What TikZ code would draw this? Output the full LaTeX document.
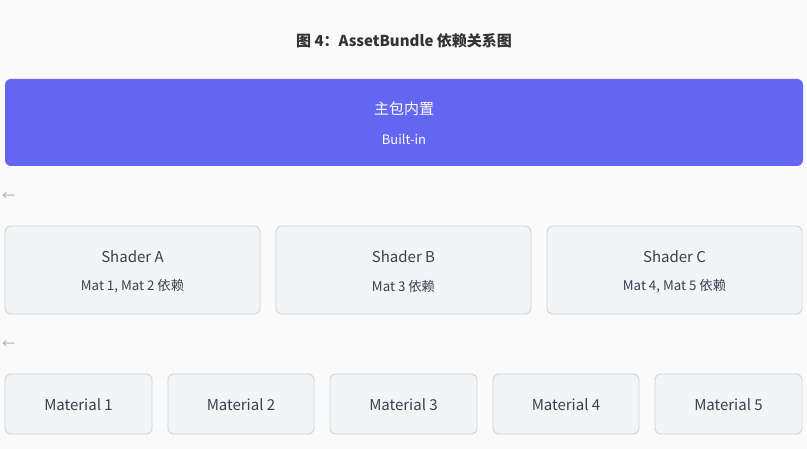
\documentclass[tikz,border=0pt]{standalone}
\usepackage{fontspec}
\setmainfont{Noto Sans CJK SC}
\definecolor{bg}{HTML}{FAFAFA}
\definecolor{mainc}{HTML}{6366F1}
\definecolor{boxc}{HTML}{F3F4F6}
\definecolor{bord}{HTML}{D1D5DB}
\definecolor{txt}{HTML}{374151}
\definecolor{arr}{HTML}{9CA3AF}
\begin{document}
\begin{tikzpicture}[x=1pt,y=-1pt,
  mainbox/.style={fill=mainc,draw=none,rounded corners=6pt},
  lightbox/.style={fill=boxc,draw=bord,line width=0.9pt,rounded corners=6pt},
  big/.style={font=\fontsize{15}{17}\selectfont,text=txt},
  small/.style={font=\fontsize{13.3}{15}\selectfont,text=txt},
  arrowtxt/.style={font=\fontsize{13}{14}\selectfont,text=arr,anchor=west,inner sep=0pt}]
\fill[bg] (0,0) rectangle (807,449);
\useasboundingbox (0,0) rectangle (807,449);
\node[font=\bfseries\fontsize{15}{17}\selectfont,text=black!80] (title) at (404,41) {图 4：AssetBundle 依赖关系图};
% main box
\path[mainbox] (5,79) rectangle (803,166);
\node[font=\fontsize{15}{17}\selectfont,text=white] (mainl) at (404,109) {主包内置};
\node[font=\fontsize{13}{15}\selectfont,text=white] (mains) at (404,139) {Built-in};
\node[arrowtxt] (a1) at (2,197) {←};
% shader boxes
\path[lightbox] (5,226) rectangle (260,314);
\path[lightbox] (276,226) rectangle (531,314);
\path[lightbox] (547,226) rectangle (802,314);
\node[big] (sa) at (132.5,257) {Shader A};
\node[small] (sad) at (132.5,286) {Mat 1, Mat 2 依赖};
\node[big] (sb) at (403.5,257) {Shader B};
\node[small] (sbd) at (403.5,286) {Mat 3 依赖};
\node[big] (sc) at (674.5,257) {Shader C};
\node[small] (scd) at (674.5,286) {Mat 4, Mat 5 依赖};
\node[arrowtxt] (a2) at (2,345) {←};
% material boxes
\foreach \xa/\xb/\n in {5/152/1,168/314/2,330/477/3,493/639/4,655/802/5}{
  \path[lightbox] (\xa,374) rectangle (\xb,434);
  \node[big] (m\n) at ({(\xa+\xb)/2},405) {Material \n};
}
\end{tikzpicture}
\end{document}
